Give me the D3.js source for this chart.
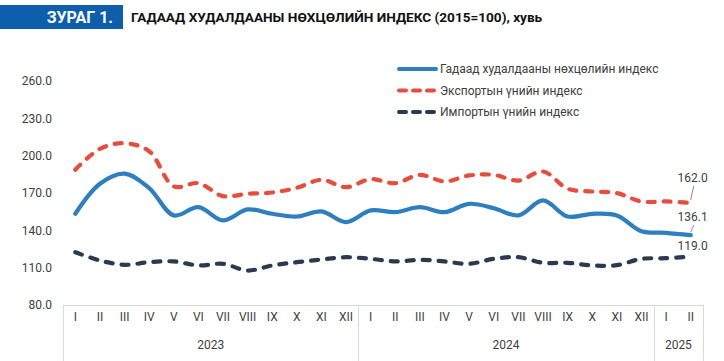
<!DOCTYPE html>
<html>
<head>
<meta charset="utf-8">
<script src="https://cdn.jsdelivr.net/npm/d3@7"></script>
<style>
body{margin:0;background:#fff}
text{font-family:Roboto,"Liberation Sans",sans-serif}
</style>
</head>
<body>
<div id="chart"></div>
<script>
'use strict'
// data
const months=["I","II","III","IV","V","VI","VII","VIII","IX","X","XI","XII","I","II","III","IV","V","VI","VII","VIII","IX","X","XI","XII","I","II"]
const years=[{label:"2023",n:12},{label:"2024",n:12},{label:"2025",n:2}]
const tradeIdx=[153.3,177.4,185.5,174,152,158.6,148,156.8,153.3,151.1,155.2,146.6,156,154.6,158.6,154.6,161.3,157.8,152,164,151.1,153.3,152,139.3,138,136.1]
const exportIdx=[188.7,205.5,210,203.6,175.3,177.9,167.5,169.4,170.4,174.2,180.6,174.7,181.1,177.9,184.6,179.3,184.1,184.6,180,187.3,173.4,171.2,169.9,163.2,163.2,162.0]
const importIdx=[122.4,115.8,112.3,114.4,115,111.8,113.1,107.7,111.8,114.4,116.6,118.4,117.1,115,116.3,115,113.1,117.1,118.4,113.9,113.9,111.8,112,117.1,117.6,119.0]
const yTicks=[80,110,140,170,200,230,260]
const seriesNames=["Гадаад худалдааны нөхцөлийн индекс","Экспортын үнийн индекс","Импортын үнийн индекс"]

const width=724,height=361
const colors=["#2e7fbf","#e84c3d","#283b50"]
const dashes=[null,"7,9","7,9"]

let svg=d3.select("#chart").append("svg").attr("width",width).attr("height",height)

// title
svg.append("rect").attr("x",0).attr("y",5).attr("width",123).attr("height",24).attr("fill","#0d5fae")
svg.append("text").attr("x",113).attr("y",23).attr("text-anchor","end").attr("fill","#fff").attr("font-weight","bold").attr("font-size",16).text("ЗУРАГ 1.")
svg.append("text").attr("x",131).attr("y",22).attr("fill","#111").attr("font-weight","bold").attr("font-size",13.6).text("ГАДААД ХУДАЛДААНЫ НӨХЦӨЛИЙН ИНДЕКС (2015=100), хувь")

let x=d3.scaleBand().domain(d3.range(months.length)).range([63,703])
let y=d3.scaleLinear().domain([80,260]).range([305,81])
let cx=i=>x(i)+x.bandwidth()/2

// y axis labels
let yAxis=d3.axisLeft(y).tickValues(yTicks).tickFormat(d3.format(".1f")).tickSize(0).tickPadding(0)
let gy=svg.append("g").attr("transform","translate(52,0)").call(yAxis)
gy.select(".domain").remove()
gy.selectAll("text").attr("font-size",12).attr("fill","#404040").attr("font-family","Roboto")

// category box
let grid="#d9d9d9"
svg.append("line").attr("x1",63).attr("x2",703).attr("y1",305.5).attr("y2",305.5).attr("stroke",grid)
let bounds=[0]
years.forEach(d=>bounds.push(bounds[bounds.length-1]+d.n))
bounds.forEach(b=>{let xx=b<months.length?x(b):x.range()[1]
svg.append("line").attr("x1",Math.round(xx)+0.5).attr("x2",Math.round(xx)+0.5).attr("y1",305).attr("y2",height).attr("stroke",grid)})

let xAxis=d3.axisBottom(x).tickFormat(i=>months[i]).tickSize(0).tickPadding(0)
let gx=svg.append("g").attr("transform","translate(0,312)").call(xAxis)
gx.select(".domain").remove()
gx.selectAll("text").attr("font-size",12).attr("fill","#404040").attr("font-family","Roboto")

years.forEach((d,k)=>{let a=x(bounds[k]),b=bounds[k+1]<months.length?x(bounds[k+1]):x.range()[1]
svg.append("text").attr("x",(a+b)/2).attr("y",349).attr("text-anchor","middle").attr("font-size",12).attr("fill","#404040").text(d.label)})

// lines
let line=d3.line().x((d,i)=>cx(i)).y(d=>y(d)).curve(d3.curveCatmullRom.alpha(0.5))
;[tradeIdx,exportIdx,importIdx].forEach((s,k)=>{
svg.append("path").datum(s).attr("d",line).attr("fill","none").attr("stroke",colors[k]).attr("stroke-width",4.2)
.attr("stroke-linecap","round").attr("stroke-dasharray",dashes[k])})

// end labels
let last=months.length-1
let lx=cx(last)
let endLabels=[{v:exportIdx[last],ty:182,lead:true},{v:tradeIdx[last],ty:221,lead:true},{v:importIdx[last],ty:250,lead:false}]
endLabels.forEach(d=>{
svg.append("text").attr("x",lx+2).attr("y",d.ty).attr("text-anchor","middle").attr("font-size",12).attr("fill","#404040").text(d3.format(".1f")(d.v))
if(d.lead)svg.append("line").attr("x1",lx+3).attr("y1",d.ty+4).attr("x2",lx).attr("y2",y(d.v)-3).attr("stroke","#8c8c8c").attr("stroke-width",1)})

// legend
let lg=svg.append("g")
seriesNames.forEach((n,k)=>{let yy=69+k*21.5
lg.append("line").attr("x1",399).attr("x2",436).attr("y1",yy).attr("y2",yy).attr("stroke",colors[k]).attr("stroke-width",4)
.attr("stroke-linecap","round").attr("stroke-dasharray",k?"7,7":null)
lg.append("text").attr("x",440).attr("y",yy+4).attr("font-size",12).attr("fill","#404040").text(n)})
</script>
</body>
</html>
